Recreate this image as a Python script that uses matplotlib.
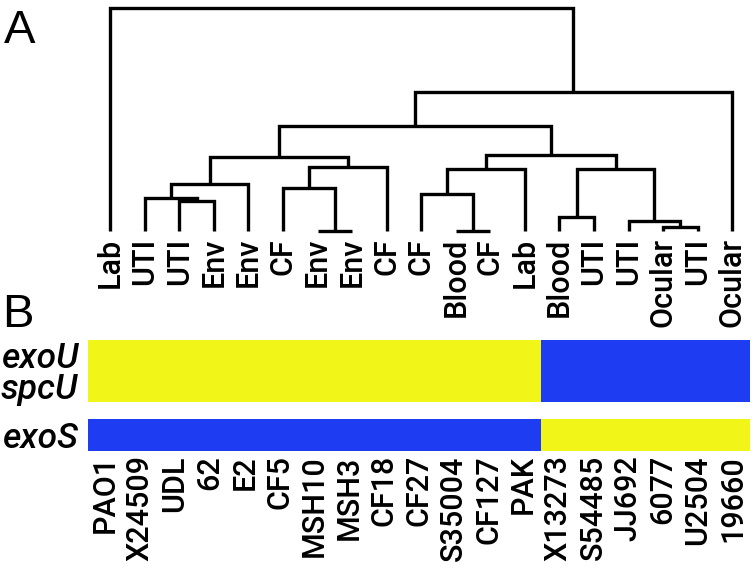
import matplotlib
matplotlib.use("Agg")
import matplotlib.pyplot as plt
import numpy as np
from matplotlib.colors import ListedColormap

plt.rcParams['font.family'] = ['Roboto', 'Liberation Sans', 'DejaVu Sans']

# ---- data ----
leaf_labels = ["Lab", "UTI", "UTI", "Env", "Env", "CF", "Env", "Env", "CF", "CF",
               "Blood", "CF", "Lab", "Blood", "UTI", "UTI", "Ocular", "UTI", "Ocular"]
strain_labels = ["PAO1", "X24509", "UDL", "62", "E2", "CF5", "MSH10", "MSH3", "CF18",
                 "CF27", "S35004", "CF127", "PAK", "X13273", "S54485", "JJ692",
                 "6077", "U2504", "19660"]
# merges (scipy-like): node ids 0..18 are leaves, 19+ are merges in order
merge_left = [2, 1, 20, 6, 5, 23, 21, 10, 9, 27, 13, 16, 15, 29, 28, 25, 34, 0]
merge_right = [3, 19, 4, 7, 22, 8, 24, 11, 26, 12, 14, 17, 30, 31, 32, 33, 18, 35]
merge_height = [0.136, 0.150, 0.211, 0.0, 0.193, 0.287, 0.332, 0.0, 0.166, 0.278,
                0.064, 0.019, 0.046, 0.278, 0.341, 0.471, 0.626, 1.0]
exoU = [0] * 13 + [1] * 6
spcU = [0] * 13 + [1] * 6
exoS = [1] * 13 + [0] * 6
gene_top = ["exoU", "spcU"]
gene_bottom = ["exoS"]

W, H = 756, 574
fig = plt.figure(figsize=(W / 100, H / 100), dpi=100)

def ax_px(x0, y0, x1, y1):
    return fig.add_axes([x0 / W, 1 - y1 / H, (x1 - x0) / W, (y1 - y0) / H])

LW = 2.4
LABEL_FS = 22
LABEL_W = 'medium'
GENE_FS = 25.5
# ---- dendrogram ----
axd = ax_px(93, 8.3, 749.5, 231)
n = len(leaf_labels)
xs = list(range(n))
hs = [0.0] * n
for l, r, h in zip(merge_left, merge_right, merge_height):
    axd.plot([xs[l], xs[l], xs[r], xs[r]], [hs[l], h, h, hs[r]], color='black',
             lw=LW, solid_joinstyle='miter', solid_capstyle='butt', clip_on=False)
    xs.append((xs[l] + xs[r]) / 2)
    hs.append(h)
axd.set_xlim(-0.5, n - 0.5)
axd.set_ylim(0, 1)
axd.set_xticks(range(n))
axd.set_xticklabels(leaf_labels, rotation=90, fontsize=LABEL_FS, fontweight=LABEL_W)
axd.tick_params(axis='x', length=0, pad=5)
axd.set_yticks([])
for s in axd.spines.values():
    s.set_visible(False)
axd.patch.set_visible(False)

cmap = ListedColormap(["#F1F518", "#1E3CF2"])

# ---- heatmap rows ----
ax1 = ax_px(88, 340, 750, 402)
ax1.pcolormesh(np.array([exoU, spcU]), cmap=cmap, vmin=0, vmax=1)
ax1.set_ylim(2, 0)
ax1.set_xticks([])
ax1.set_yticks([0.5, 1.5])
ax1.set_yticklabels(gene_top, fontsize=GENE_FS, style='italic', fontweight=LABEL_W)
ax1.tick_params(axis='y', length=0, pad=7)
for s in ax1.spines.values():
    s.set_visible(False)

ax2 = ax_px(88, 419, 750, 451)
ax2.pcolormesh(np.array([exoS]), cmap=cmap, vmin=0, vmax=1)
ax2.set_ylim(1, 0)
ax2.set_xticks(np.arange(n) + 0.5)
ax2.set_xticklabels(strain_labels, rotation=90, fontsize=LABEL_FS, fontweight=LABEL_W)
ax2.tick_params(axis='x', length=0, pad=3)
ax2.set_yticks([0.5])
ax2.set_yticklabels(gene_bottom, fontsize=GENE_FS, style='italic', fontweight=LABEL_W)
ax2.tick_params(axis='y', length=0, pad=7)
for s in ax2.spines.values():
    s.set_visible(False)

# ---- panel letters ----
fig.text(4 / W, 1 - 43 / H, "A", fontsize=34, ha='left', va='baseline',
         family='Liberation Sans')
fig.text(2 / W, 1 - 327 / H, "B", fontsize=34, ha='left', va='baseline',
         family='Liberation Sans')

fig.savefig("out.png", dpi=100)
